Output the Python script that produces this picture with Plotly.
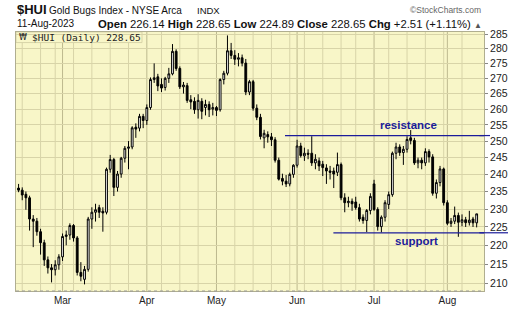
import math
import plotly.graph_objects as go
import pandas as pd

# ---------------- data ----------------
START_DATE = "2023-02-10"
END_DATE = "2023-08-11"
HOLIDAYS = ["2023-02-20", "2023-04-07", "2023-05-29", "2023-06-19", "2023-07-04"]

OPEN = [236.0, 235.4, 234.2, 233.2, 227.2, 226.6, 223.7, 220.7, 216.1, 214.0,
        213.5, 214.8, 216.9, 222.4, 222.8, 225.4, 222.0, 212.8, 211.0, 213.6,
        227.2, 229.1, 230.4, 229.4, 229.1, 241.5, 244.4, 236.2, 240.1, 244.8,
        247.8, 248.2, 254.3, 254.0, 257.7, 256.4, 260.5, 269.6, 270.5, 268.0,
        267.0, 270.0, 271.5, 279.1, 273.3, 267.2, 267.6, 263.0, 262.5, 259.8,
        262.5, 260.5, 261.5, 260.0, 260.5, 259.8, 269.6, 271.7, 279.3, 277.7,
        276.4, 276.9, 275.1, 265.5, 268.9, 260.3, 257.4, 251.0, 252.0, 251.3,
        250.4, 244.2, 238.8, 238.0, 237.2, 240.0, 242.7, 248.5, 245.5, 246.3,
        246.3, 243.4, 244.0, 243.0, 241.9, 241.0, 241.0, 240.6, 242.9, 233.2,
        231.8, 232.2, 232.0, 230.4, 227.7, 226.8, 229.6, 237.2, 229.9, 225.1,
        227.7, 231.3, 234.1, 246.3, 248.2, 246.5, 247.5, 251.0, 250.2, 243.4,
        244.2, 243.4, 246.8, 245.2, 234.5, 237.6, 241.6, 231.8, 226.0, 226.6,
        228.2, 226.3, 227.0, 226.2, 227.2, 226.14]
HIGH = [237.2, 236.2, 235.0, 233.8, 228.3, 227.5, 224.5, 221.5, 217.0, 215.0,
        216.0, 217.6, 223.2, 224.0, 226.0, 225.8, 222.5, 215.5, 214.5, 227.8,
        230.5, 231.5, 231.2, 230.5, 242.0, 245.8, 244.9, 241.0, 245.2, 248.5,
        250.0, 254.6, 255.5, 258.5, 258.5, 261.5, 270.3, 275.0, 271.5, 270.0,
        270.5, 273.5, 281.6, 279.8, 274.0, 268.8, 268.5, 264.5, 263.8, 264.8,
        263.5, 263.0, 262.5, 262.0, 261.0, 270.0, 272.5, 284.6, 282.0, 279.5,
        278.5, 278.0, 276.5, 269.5, 269.5, 261.5, 258.5, 253.5, 253.0, 252.5,
        251.2, 245.0, 240.2, 239.8, 240.5, 243.0, 250.4, 249.5, 248.0, 247.5,
        251.5, 246.0, 245.0, 244.0, 243.0, 242.5, 242.0, 246.5, 243.5, 234.5,
        233.5, 233.0, 233.5, 231.5, 228.5, 230.0, 234.5, 238.4, 230.5, 228.2,
        232.5, 235.0, 246.8, 249.5, 249.0, 248.5, 251.5, 253.4, 251.0, 245.0,
        245.0, 247.8, 247.5, 246.0, 238.5, 242.5, 242.0, 232.5, 227.5, 230.7,
        229.0, 228.5, 227.8, 229.5, 227.8, 228.65]
LOW = [234.8, 232.5, 229.8, 224.0, 219.5, 222.6, 217.5, 214.5, 212.5, 210.2,
       212.0, 213.5, 215.8, 220.0, 221.5, 221.0, 212.0, 210.5, 209.7, 213.0,
       224.5, 226.5, 227.5, 223.7, 228.5, 240.5, 233.7, 235.0, 239.0, 243.5,
       241.5, 247.5, 251.0, 253.0, 254.0, 255.0, 259.8, 268.5, 265.8, 265.5,
       266.0, 268.5, 271.0, 272.5, 266.5, 265.0, 262.0, 260.0, 258.5, 257.0,
       256.8, 258.0, 257.5, 258.0, 257.8, 259.2, 268.0, 271.0, 276.5, 274.5,
       274.0, 274.0, 264.5, 264.5, 259.5, 256.5, 250.5, 247.8, 249.5, 248.5,
       243.5, 238.2, 236.8, 236.3, 236.5, 239.0, 242.0, 245.0, 244.0, 244.5,
       242.5, 241.5, 241.0, 239.5, 237.2, 238.5, 236.0, 239.5, 232.5, 229.1,
       230.5, 229.5, 229.8, 226.5, 225.9, 223.6, 228.5, 229.5, 224.0, 223.5,
       226.5, 230.0, 233.5, 244.5, 245.5, 242.8, 246.5, 249.0, 242.8, 241.8,
       241.5, 242.5, 243.5, 233.8, 233.0, 236.5, 231.0, 225.5, 225.0, 225.8,
       222.3, 225.2, 225.0, 225.4, 225.0, 224.89]
CLOSE = [235.4, 234.0, 233.2, 227.2, 226.6, 223.7, 220.7, 216.1, 214.0, 213.5,
         214.8, 216.9, 222.4, 222.8, 225.4, 222.0, 212.8, 211.8, 213.6, 227.2,
         229.1, 229.8, 229.1, 228.9, 241.5, 244.4, 236.2, 240.1, 244.8, 247.8,
         248.2, 254.1, 253.7, 257.7, 256.4, 260.5, 269.6, 270.2, 267.5, 266.8,
         270.0, 271.5, 279.1, 273.3, 267.2, 267.8, 262.8, 262.3, 259.8, 262.8,
         259.3, 261.5, 259.8, 260.5, 259.6, 269.6, 271.7, 279.3, 277.7, 276.4,
         276.9, 275.1, 265.5, 268.9, 260.3, 257.4, 251.4, 252.4, 251.3, 250.4,
         244.2, 238.6, 238.0, 237.2, 240.0, 242.7, 248.5, 245.6, 246.3, 246.0,
         243.4, 244.5, 242.5, 242.0, 241.0, 240.6, 240.1, 242.9, 233.2, 231.8,
         232.2, 231.5, 230.4, 227.2, 226.8, 229.6, 233.6, 229.9, 225.1, 227.7,
         231.8, 234.1, 246.3, 248.2, 246.5, 247.5, 250.5, 250.2, 243.4, 244.2,
         243.4, 246.8, 245.2, 234.5, 237.6, 241.6, 231.8, 226.0, 226.6, 228.2,
         226.3, 227.0, 226.2, 226.9, 226.14, 228.65]

Y_TICKS = [210, 215, 220, 225, 230, 235, 240, 245, 250, 255, 260, 265, 270, 275, 280, 285]
Y_RANGE = [208.0, 285.8]
RESISTANCE = 251.7
SUPPORT = 223.4
RES_START_DAY = 72.7
SUP_START_DAY = 85.9
RES_LABEL_DAY = 106.5
SUP_LABEL_DAY = 108.6
SYMBOL = "$HUI"
TITLE = "Gold Bugs Index - NYSE Arca"
EXCHANGE = "INDX"

# ---------------- layout helpers ----------------
W, H = 520, 318
ML, MR, MT, MB = 16, 36, 32, 16
PW, PH = W - ML - MR, H - MT - MB


def px(x):
    return (x - ML) / PW


def py(y):
    return (H - MB - y) / PH


dates = pd.bdate_range(START_DATE, END_DATE)
dates = dates[~dates.isin(pd.to_datetime(HOLIDAYS))]
DAY = list(range(len(dates)))
month_starts = [i for i in DAY if i > 0 and dates[i].month != dates[i - 1].month]
week_starts = [i for i in DAY if i > 0 and dates[i].isocalendar().week != dates[i - 1].isocalendar().week]
month_labels = [dates[i].strftime("%b") for i in month_starts]

BG = "#F8F6C8"
GRID = "#D8D4A8"
GRID_DARK = "#BDB98E"
NAVY = "#1C1C9A"

fig = go.Figure()
fig.add_trace(go.Candlestick(
    x=DAY, open=OPEN, high=HIGH, low=LOW, close=CLOSE,
    increasing=dict(line=dict(color="#000000", width=1), fillcolor="#FFFFFF"),
    decreasing=dict(line=dict(color="#000000", width=1), fillcolor="#000000"),
    whiskerwidth=0, showlegend=False, hoverinfo="skip",
))

shapes = []
for i in week_starts:
    if i in month_starts:
        continue
    shapes.append(dict(type="line", xref="x", yref="paper", x0=i, x1=i, y0=0, y1=1,
                       line=dict(color=GRID, width=1), layer="between"))
for i in month_starts:
    shapes.append(dict(type="line", xref="x", yref="paper", x0=i, x1=i, y0=0, y1=1,
                       line=dict(color=GRID_DARK, width=1), layer="between"))
# legend box (covers grid)
shapes.append(dict(type="rect", xref="paper", yref="paper", x0=0, x1=px(142), y0=py(43), y1=1,
                   fillcolor=BG, line=dict(color=GRID, width=1), layer="between"))
# support / resistance lines (the part beyond the plot edge in domain units)
shapes.append(dict(type="line", xref="x", yref="y", x0=RES_START_DAY, x1=DAY[-1] + 5,
                   y0=RESISTANCE, y1=RESISTANCE, line=dict(color=NAVY, width=1.2)))
shapes.append(dict(type="line", xref="x domain", yref="y", x0=0.99, x1=px(490),
                   y0=RESISTANCE, y1=RESISTANCE, line=dict(color=NAVY, width=1.2)))
shapes.append(dict(type="line", xref="x", yref="y", x0=SUP_START_DAY, x1=DAY[-1] + 5,
                   y0=SUPPORT, y1=SUPPORT, line=dict(color=NAVY, width=1.2)))
shapes.append(dict(type="line", xref="x domain", yref="y", x0=0.99, x1=px(508),
                   y0=SUPPORT, y1=SUPPORT, line=dict(color=NAVY, width=1.2)))
# dotted bottom border
shapes.append(dict(type="line", xref="paper", yref="paper", x0=0, x1=1, y0=0, y1=0,
                   line=dict(color="#9A9A9A", width=1, dash="dot")))

chg = CLOSE[-1] - CLOSE[-2]
pct = chg / CLOSE[-2] * 100
info = (f"<b>Open</b> {OPEN[-1]:.2f} <b>High</b> {HIGH[-1]:.2f} <b>Low</b> {LOW[-1]:.2f} "
        f"<b>Close</b> {CLOSE[-1]:.2f} <b>Chg</b> {chg:+.2f} ({pct:+.2f}%) "
        f"<span style='font-size:8px;color:#555'>▲</span>")

SANS = "Liberation Sans, Arial, sans-serif"
ann = [
    dict(text=f"<b>{SYMBOL}</b>", x=px(16), y=py(9), xanchor="left", yanchor="middle",
         font=dict(family=SANS, size=13, color="#111")),
    dict(text=TITLE, x=px(48), y=py(9.5), xanchor="left", yanchor="middle",
         font=dict(family=SANS, size=10, color="#111")),
    dict(text=EXCHANGE, x=px(196), y=py(9.5), xanchor="left", yanchor="middle",
         font=dict(family=SANS, size=9.5, color="#111")),
    dict(text="©StockCharts.com", x=px(482), y=py(9), xanchor="right", yanchor="middle",
         font=dict(family="Liberation Sans Narrow, Liberation Sans, sans-serif", size=8.5, color="#666")),
    dict(text=dates[-1].strftime("%d-%b-%Y"), x=px(16), y=py(23.5), xanchor="left", yanchor="middle",
         font=dict(family=SANS, size=10, color="#111")),
    dict(text=info, x=px(483), y=py(23.5), xanchor="right", yanchor="middle",
         font=dict(family=SANS, size=11.3, color="#111")),
    dict(text="₩", x=px(18), y=py(37.5), xanchor="left", yanchor="middle",
         font=dict(family="DejaVu Sans", size=8, color="#222")),
    dict(text=f"{SYMBOL} (Daily) {CLOSE[-1]:.2f}", x=px(31), y=py(37.5), xanchor="left", yanchor="middle",
         font=dict(family="DejaVu Sans Mono", size=9.5, color="#222")),
]
for a in ann:
    a.update(xref="paper", yref="paper", showarrow=False, borderpad=0)
# annotations on a log axis take log10 positions
ann.append(dict(text="<b>resistance</b>", xref="x", yref="y", x=RES_LABEL_DAY, y=math.log10(RESISTANCE),
                xanchor="center", yanchor="bottom", yshift=3, showarrow=False,
                font=dict(family=SANS, size=11.5, color=NAVY)))
ann.append(dict(text="<b>support</b>", xref="x", yref="y", x=SUP_LABEL_DAY, y=math.log10(SUPPORT),
                xanchor="center", yanchor="top", yshift=0, showarrow=False,
                font=dict(family=SANS, size=11.5, color=NAVY)))

fig.update_layout(
    width=W, height=H, autosize=False,
    margin=dict(l=ML, r=MR, t=MT, b=MB, pad=0),
    paper_bgcolor="#FFFFFF", plot_bgcolor=BG,
    shapes=shapes, annotations=ann,
    xaxis=dict(range=[-0.7, 127.0], tickvals=month_starts, ticktext=month_labels,
               showgrid=False, zeroline=False, ticks="", ticklen=0,
               tickfont=dict(family=SANS, size=10, color="#222"),
               showline=True, linecolor="#B0AE90", mirror=True,
               rangeslider=dict(visible=False), fixedrange=True),
    yaxis=dict(type="log", side="right", range=[math.log10(Y_RANGE[0]), math.log10(Y_RANGE[1])],
               tickvals=Y_TICKS, ticktext=[str(v) for v in Y_TICKS],
               showgrid=True, gridcolor=GRID, gridwidth=1, zeroline=False,
               ticks="outside", ticklen=3, tickcolor="#888",
               tickfont=dict(family=SANS, size=10.5, color="#222"),
               showline=True, linecolor="#B0AE90", mirror=True, fixedrange=True),
    showlegend=False,
)

fig.write_html("out.html", config={"displayModeBar": False})
